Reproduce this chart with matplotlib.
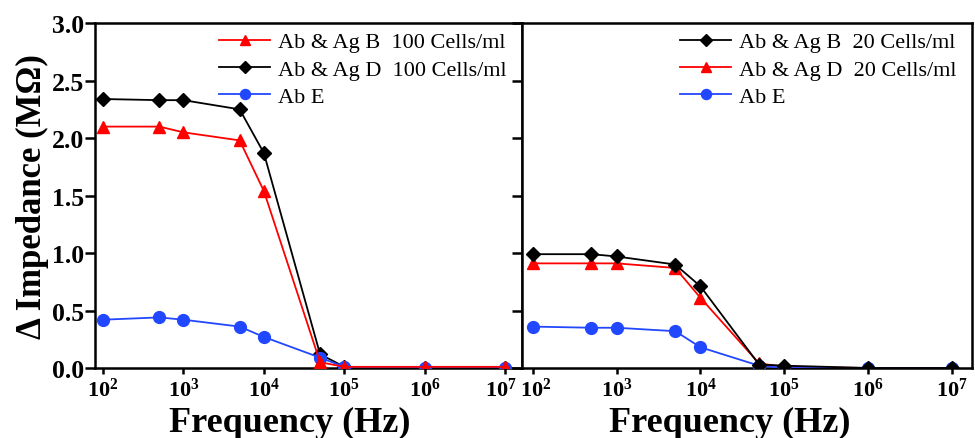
import math
import matplotlib
matplotlib.use('Agg')
import matplotlib.pyplot as plt
import matplotlib.transforms as mtransforms
from matplotlib.ticker import FixedLocator, FuncFormatter, NullLocator

plt.rcParams['font.family'] = ['Liberation Serif', 'DejaVu Serif']
plt.rcParams['mathtext.fontset'] = 'custom'
plt.rcParams['mathtext.rm'] = 'Liberation Serif'
plt.rcParams['mathtext.bf'] = 'Liberation Serif:bold'

# frequencies (Hz)
freq = [1e2, 5e2, 1e3, 5e3, 1e4, 5e4, 1e5, 1e6, 1e7]

# left panel: 100 Cells/ml
left_B = [2.10, 2.10, 2.05, 1.98, 1.54, 0.05, 0.01, 0.01, 0.01]
left_D = [2.34, 2.33, 2.33, 2.25, 1.87, 0.12, 0.01, 0.0, 0.0]
left_E = [0.42, 0.44, 0.42, 0.36, 0.27, 0.09, 0.01, 0.0, 0.0]

# right panel: 20 Cells/ml
right_B = [0.99, 0.99, 0.97, 0.90, 0.71, 0.03, 0.02, 0.0, 0.0]
right_D = [0.91, 0.91, 0.91, 0.87, 0.61, 0.04, 0.01, 0.0, 0.0]
right_E = [0.36, 0.35, 0.35, 0.32, 0.18, 0.02, 0.0, 0.0, 0.0]

left_labels = ['Ab & Ag B  100 Cells/ml', 'Ab & Ag D  100 Cells/ml', 'Ab E']
right_labels = ['Ab & Ag B  20 Cells/ml', 'Ab & Ag D  20 Cells/ml', 'Ab E']

RED = '#ff0000'
BLACK = '#000000'
BLUE = '#2248ff'

fig = plt.figure(figsize=(9.75, 4.39), dpi=100)
ax1 = fig.add_axes([0.0974, 0.1595, 0.4380, 0.7855])
ax2 = fig.add_axes([0.5354, 0.1595, 0.4615, 0.7855])

tri = dict(lw=1.3, marker='^', ms=9)
dia = dict(lw=1.3, marker='D', ms=7.5)
dot = dict(lw=1.3, marker='o', ms=8.5)

# left panel
l1, = ax1.plot(freq, left_B, color=RED, label=left_labels[0], zorder=5, **tri)
l2, = ax1.plot(freq, left_D, color=BLACK, label=left_labels[1], zorder=3, **dia)
l3, = ax1.plot(freq, left_E, color=BLUE, label=left_labels[2], zorder=4, **dot)

# right panel
r1, = ax2.plot(freq, right_B, color=BLACK, label=right_labels[0], zorder=5, **dia)
r2, = ax2.plot(freq, right_D, color=RED, label=right_labels[1], zorder=3, **tri)
r3, = ax2.plot(freq, right_E, color=BLUE, label=right_labels[2], zorder=4, **dot)

leg_kw = dict(loc='upper right', frameon=False, fontsize=16, handlelength=2.3,
              handletextpad=0.35, labelspacing=0.3, borderaxespad=0.3,
              bbox_to_anchor=(1.0, 1.02), markerscale=0.85)
ax1.legend(handles=[l1, l2, l3], **leg_kw)
ax2.legend(handles=[r1, r2, r3], **leg_kw)

decade_fmt = FuncFormatter(lambda v, p: r'$\mathbf{10^{%d}}$' % round(math.log10(v)))

for ax, lims in ((ax1, (10 ** 1.9, 10 ** 7.21)), (ax2, (10 ** 1.87, 10 ** 7.24))):
    ax.set_xscale('log')
    ax.set_xlim(*lims)
    ax.set_ylim(0, 3.0)
    ax.xaxis.set_major_locator(FixedLocator([1e2, 1e3, 1e4, 1e5, 1e6, 1e7]))
    ax.xaxis.set_minor_locator(NullLocator())
    ax.xaxis.set_major_formatter(decade_fmt)
    ax.set_yticks([0, 0.5, 1.0, 1.5, 2.0, 2.5, 3.0])
    for s in ax.spines.values():
        s.set_linewidth(1.8)
    ax.tick_params(axis='both', direction='out', width=1.8)
    ax.tick_params(axis='y', length=7, pad=1, labelsize=18.5)
    ax.tick_params(axis='x', length=4, pad=3, labelsize=16)
    ax.set_xlabel('Frequency (Hz)', fontsize=26, fontweight='bold')

ax1.xaxis.set_label_coords(0.457, -0.11)
ax2.xaxis.set_label_coords(0.462, -0.11)

ax1.set_yticklabels(['0.0', '0.5', '1.0', '1.5', '2.0', '2.5', '3.0'], fontweight='bold')
ax2.tick_params(axis='y', labelleft=False)

ax1.set_ylabel('\u0394 Impedance (M\u03a9)', fontsize=25, fontweight='bold', labelpad=2)

# nudge the two labels that meet at the panel join apart a little
fig.canvas.draw()
last_left = ax1.xaxis.get_majorticklabels()[-1]
first_right = ax2.xaxis.get_majorticklabels()[0]
last_left.set_transform(last_left.get_transform()
                        + mtransforms.ScaledTranslation(-4 / 100, 0, fig.dpi_scale_trans))
first_right.set_transform(first_right.get_transform()
                          + mtransforms.ScaledTranslation(3 / 100, 0, fig.dpi_scale_trans))

fig.savefig('out.png', dpi=100)
